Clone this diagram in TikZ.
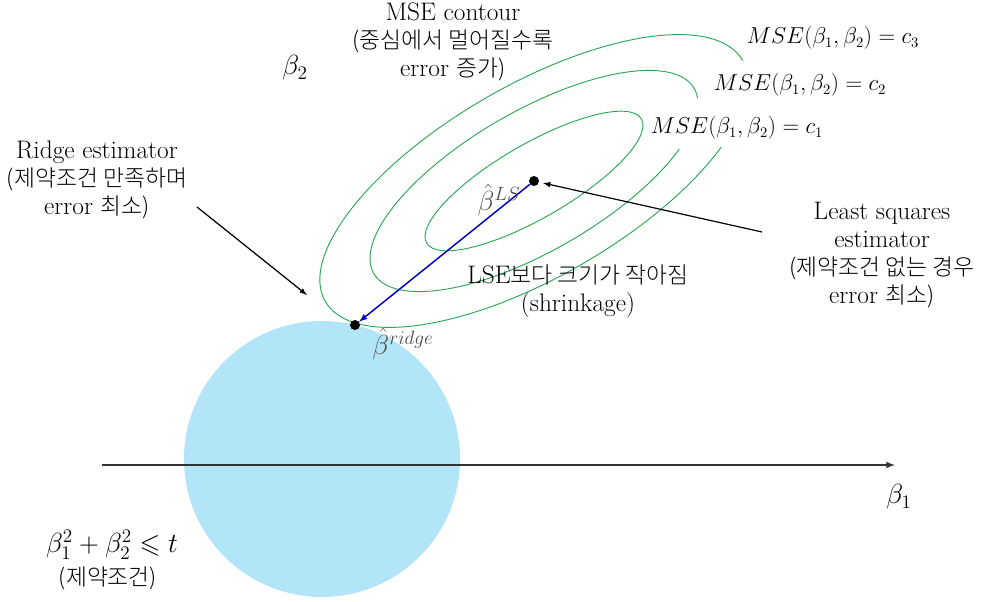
\documentclass[tikz,border=0pt]{standalone}
\usepackage{amsmath}
\usepackage{amssymb}
\usepackage{fontspec}
\IfFontExistsTF{Noto Sans CJK KR Light}
    {\newfontfamily\krfont[Scale=0.9]{Noto Sans CJK KR Light}}
    {\newfontfamily\krfont[Scale=0.9]{Noto Sans CJK KR}}
\newcommand{\kor}[1]{{\krfont #1}}
\definecolor{skyBall}{rgb}{0.70, 0.90, 0.97}
\definecolor{contourGreen}{rgb}{0.16, 0.66, 0.33}
\definecolor{shrinkBlue}{rgb}{0.0, 0.0, 0.8}

\tikzset{
    lbl/.style = {align=center, font=\fontsize{19}{21}\selectfont},
    msel/.style = {font=\fontsize{16.3}{18}\selectfont},
    axlbl/.style = {font=\fontsize{22}{26}\selectfont},
    est/.style = {font=\fontsize{20}{24}\selectfont, text=black!70, inner sep=1pt},
    dot/.style = {circle, fill=black, inner sep=0pt, minimum size=7.5pt},
    ptr/.style = {-latex, line width=0.9pt},
    contour/.style = {draw=contourGreen, line width=0.7pt}
}

\begin{document}
\begin{tikzpicture}[x=0.75pt, y=0.75pt]
            \useasboundingbox (0,0) rectangle (986,601);

            % constraint region
            \fill[skyBall] (322,142) circle (138);

            % axis
            \coordinate (xstart) at (102,136);
            \coordinate (xend) at (895,136);
            \draw[-latex, line width=1.2pt, black!80] (xstart) -- (xend);
            \node[axlbl] (b1) at (899,104) {$\beta_1$};
            \node[axlbl] (b2) at (295,533) {$\beta_2$};

            % MSE contours
            \begin{scope}[shift={(534,420)}, rotate=30]
                \draw[contour] (0,0) ellipse [x radius=124, y radius=37];
                \draw[contour] (-8:185 and 70) arc[start angle=-8, end angle=320, x radius=185, y radius=70];
                \draw[contour] (0:241 and 96) arc[start angle=0, end angle=318, x radius=241, y radius=96];
            \end{scope}

            \node[msel] (c3) at (833,563) {$MSE(\beta_1,\beta_2)=c_3$};
            \node[msel] (c2) at (800,516) {$MSE(\beta_1,\beta_2)=c_2$};
            \node[msel] (c1) at (737,473) {$MSE(\beta_1,\beta_2)=c_1$};
            \node[lbl] (contourtxt) at (453,559) {MSE contour\\\kor{(중심에서 멀어질수록}\\error \kor{증가)}};

            % estimators
            \node[dot] (ls) at (534,420) {};
            \node[dot] (rdg) at (355,276) {};
            \draw[ptr, shrinkBlue, line width=1.1pt] (ls) -- (rdg);
            \node[est] (lslbl) at (499,401) {$\hat\beta^{LS}$};
            \node[est] (rdglbl) at (403,257) {$\hat\beta^{ridge}$};
            \node[lbl] (shrinktxt) at (578,310) {LSE\kor{보다 크기가 작아짐}\\(shrinkage)};

            % ridge annotation
            \node[lbl] (rdgtxt) at (97,421) {Ridge estimator\\\kor{(제약조건 만족하며}\\error \kor{최소)}};
            \coordinate (rdgfrom) at (197,394);
            \coordinate (rdgto) at (307,306);
            \draw[ptr] (rdgfrom) -- (rdgto);

            % least squares annotation
            \node[lbl] (lstxt) at (882,346) {Least squares\\estimator\\\kor{(제약조건 없는 경우}\\error \kor{최소)}};
            \coordinate (lsfrom) at (762,369);
            \draw[ptr, shorten >=3pt] (lsfrom) -- (ls);

            % constraint
            \node[lbl, font=\fontsize{20}{24}\selectfont] (constr) at (112,56) {$\beta_1^2+\beta_2^2\leqslant t$};
            \node[lbl] (constrkr) at (108,23) {\kor{(제약조건)}};

        \end{tikzpicture}
\end{document}
